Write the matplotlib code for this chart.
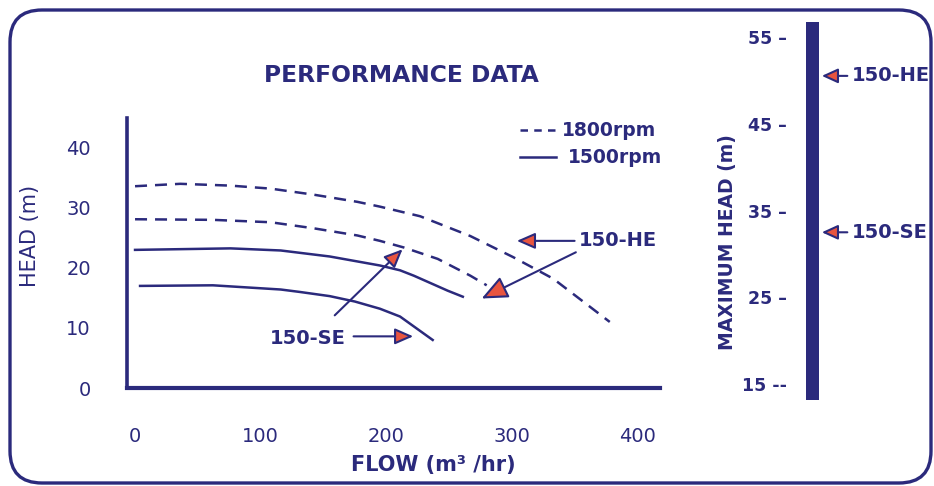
import matplotlib
matplotlib.use("Agg")
import matplotlib.pyplot as plt
from matplotlib.patches import FancyBboxPatch

NAVY = "#2b2a7c"
RED = "#e8553f"

# Performance curves (flow m3/hr, head m)
he_1800_flow = [0, 36, 76, 108, 142, 177, 195, 227, 267, 301, 333, 378]
he_1800_head = [33.6, 34.0, 33.7, 33.2, 32.2, 31.0, 30.2, 28.6, 25.3, 21.8, 18.2, 11.0]
se_1800_flow = [0, 62, 108, 142, 177, 195, 214, 241, 267, 280]
se_1800_head = [28.1, 28.0, 27.6, 26.6, 25.4, 24.5, 23.4, 21.5, 18.7, 17.1]
he_1500_flow = [0, 76, 116, 155, 195, 211, 222, 249, 261]
he_1500_head = [23.0, 23.25, 22.9, 21.9, 20.4, 19.6, 18.7, 16.2, 15.2]
se_1500_flow = [4, 62, 116, 131, 155, 175, 195, 211, 237]
se_1500_head = [17.0, 17.1, 16.4, 16.0, 15.3, 14.4, 13.2, 11.9, 8.0]

x_ticks = [0, 100, 200, 300, 400]
y_ticks = [0, 10, 20, 30, 40]

# Maximum head scale
max_ticks = [55, 45, 35, 25, 15]
max_tick_labels = ["55 \u2013", "45 \u2013", "35 \u2013", "25 \u2013", "15 --"]
max_scale = [13.2, 56.7]
max_head_models = ["150-HE", "150-SE"]
max_head_values = [50.5, 32.5]

W, H = 934, 486
fig = plt.figure(figsize=(W / 100, H / 100), dpi=100)
fig.patch.set_facecolor("white")

def fx(px):
    return px / W

def fy(py):
    return 1 - py / H

# border
border = FancyBboxPatch((10 / 100, 3 / 100), (931 - 10) / 100, (476 - 3) / 100,
                        boxstyle="round,pad=0,rounding_size=0.32",
                        transform=fig.dpi_scale_trans, fill=False,
                        edgecolor=NAVY, linewidth=2.4, zorder=0)
fig.patches.append(border)

# main axes
ax = fig.add_axes([fx(127), fy(388), fx(660) - fx(127), fy(118) - fy(388)])
ax.set_xlim(-6.4, 418)
ax.set_ylim(0.33, 44.96)
for s in ["top", "right"]:
    ax.spines[s].set_visible(False)
ax.spines["left"].set_linewidth(2.6)
ax.spines["bottom"].set_linewidth(3.0)
ax.spines["left"].set_color(NAVY)
ax.spines["bottom"].set_color(NAVY)
ax.set_xticks(x_ticks)
ax.set_yticks(y_ticks)
ax.tick_params(length=0, labelcolor=NAVY, labelsize=14)
ax.tick_params(axis="x", pad=28)
ax.tick_params(axis="y", pad=26)
ax.set_facecolor("none")

dash = (4.8, 3.2)
lw = 1.8
ax.plot(he_1800_flow, he_1800_head, color=NAVY, lw=lw, dashes=dash)
ax.plot(se_1800_flow, se_1800_head, color=NAVY, lw=lw, dashes=dash)
ax.plot(he_1500_flow, he_1500_head, color=NAVY, lw=lw)
ax.plot(se_1500_flow, se_1500_head, color=NAVY, lw=lw)

fig.text(fx(30), fy(236), "HEAD (m)", rotation=90, color=NAVY, fontsize=15,
         ha="center", va="center")
fig.text(fx(433), fy(465), "FLOW (m\u00b3 /hr)", color=NAVY, fontsize=15,
         fontweight="bold", ha="center", va="center")
fig.text(fx(401), fy(75), "PERFORMANCE DATA", color=NAVY, fontsize=16.8,
         fontweight="bold", ha="center", va="center")

# legend
lax = fig.add_axes([0, 0, 1, 1], facecolor="none")
lax.set_xlim(0, W)
lax.set_ylim(H, 0)
lax.axis("off")
lax.plot([520, 555], [130, 130], color=NAVY, lw=lw, dashes=(3.0, 2.5))
lax.plot([520, 556], [157, 157], color=NAVY, lw=lw)
lax.text(562, 130, "1800rpm", color=NAVY, fontsize=13.5, fontweight="bold", va="center")
lax.text(568, 157, "1500rpm", color=NAVY, fontsize=13.5, fontweight="bold", va="center")

def arrow(a, x0, y0, x1, y1, size=14):
    a.annotate("", xy=(x1, y1), xytext=(x0, y0),
               arrowprops=dict(arrowstyle="-|>,head_length=%f,head_width=%f" % (size / 14 * 0.8, size / 14 * 0.35),
                               lw=1.5, facecolor=RED, edgecolor=NAVY,
                               shrinkA=0, shrinkB=0, mutation_scale=14))

ax.text(353, 24.5, "150-HE", color=NAVY, fontsize=14, fontweight="bold", va="center", ha="left")
arrow(ax, 350, 24.5, 304, 24.5)
arrow(ax, 351, 22.6, 276, 14.9, size=20)
ax.text(168, 8.3, "150-SE", color=NAVY, fontsize=14, fontweight="bold", va="center", ha="right")
arrow(ax, 174, 8.6, 221.5, 8.6)
arrow(ax, 159, 12.1, 213, 23.1)

# maximum head scale
rax = fig.add_axes([fx(806), fy(400), fx(819) - fx(806), fy(22) - fy(400)])
rax.set_xlim(-0.5, 0.5)
rax.set_ylim(max_scale[0], max_scale[1])
rax.bar([0], [max_scale[1] - max_scale[0]], bottom=max_scale[0], width=1.0, color=NAVY)
for s in rax.spines.values():
    s.set_visible(False)
rax.set_xticks([])
rax.set_yticks(max_ticks)
rax.set_yticklabels(max_tick_labels)
rax.tick_params(length=0, pad=14, labelcolor=NAVY, labelsize=12.5)
for t in rax.get_yticklabels():
    t.set_fontweight("bold")
rax.set_facecolor("none")
for m, v in zip(max_head_models, max_head_values):
    rax.annotate(m, xy=(0.72, v), xytext=(3.0, v), xycoords="data", textcoords="data",
                 color=NAVY, fontsize=14, fontweight="bold", va="center", ha="left",
                 annotation_clip=False,
                 arrowprops=dict(arrowstyle="-|>,head_length=0.7,head_width=0.32",
                                 lw=1.5, facecolor=RED, edgecolor=NAVY,
                                 shrinkA=1, shrinkB=0, mutation_scale=14))

fig.text(fx(727), fy(242), "MAXIMUM HEAD (m)", rotation=90, color=NAVY, fontsize=13.5,
         fontweight="bold", ha="center", va="center")

fig.savefig("out.png", dpi=100, facecolor="white")
